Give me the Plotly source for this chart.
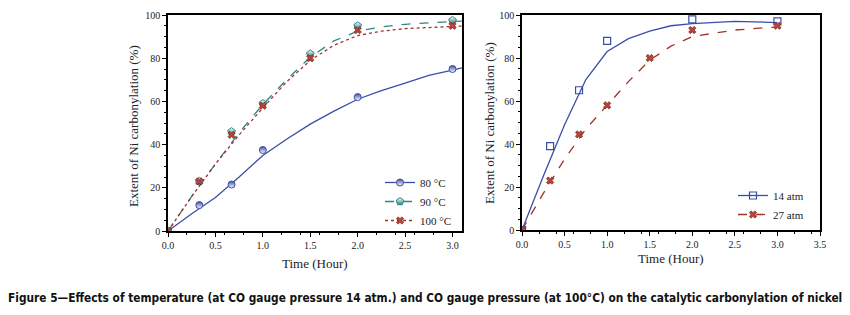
import plotly.graph_objects as go

# ---- measured points ----
t_pts = [0.0, 0.33, 0.67, 1.0, 2.0, 3.0]
t_pts_b = [0.0, 0.33, 0.67, 1.0, 1.5, 2.0, 3.0]
y80 = [0, 12, 21.5, 37.5, 62, 75]
y90 = [0, 23, 46, 59, 82, 95, 97.5]
y100 = [0, 23, 44.5, 58, 80, 93, 95]
y14 = [0, 39, 65, 88, 98, 97]
y27 = [0, 23, 44.5, 58, 80, 93, 95]

# ---- fitted curves ----
t_fit = [0, 0.25, 0.5, 0.75, 1.0, 1.25, 1.5, 1.75, 2.0, 2.25, 2.5, 2.75, 3.0, 3.1]
f80 = [0, 8, 15.5, 25, 35, 42.5, 49.5, 55.5, 61, 65, 68.5, 72, 74.5, 75.5]
f90 = [0, 16, 31, 45.5, 58.5, 70, 80.5, 88, 92.5, 94.5, 95.7, 96.5, 97, 97.2]
f100 = [0, 16, 31, 44.5, 57, 69, 79, 86, 90.5, 92.5, 93.7, 94.3, 94.7, 94.9]
t_fit_r = [0, 0.25, 0.5, 0.67, 0.75, 1.0, 1.25, 1.5, 1.75, 2.0, 2.5, 3.0]
f14 = [0, 25, 49, 63, 70, 83, 89, 92.5, 95, 96, 97, 96.5]
t_fit_r2 = [0, 0.25, 0.5, 0.75, 1.0, 1.25, 1.5, 1.75, 2.0, 2.5, 3.0]
f27 = [0, 17, 33, 47, 58, 69, 79, 85.5, 90, 93, 94.5]

x_ticks_left = [0.0, 0.5, 1.0, 1.5, 2.0, 2.5, 3.0]
x_ticks_right = [0.0, 0.5, 1.0, 1.5, 2.0, 2.5, 3.0, 3.5]
y_ticks = [0, 20, 40, 60, 80, 100]

BLUE = "#3b4ea6"
TEAL = "#2b8686"
RED = "#a3322b"
XRED = "#b8433a"
XLINE = "#6e1a14"
SERIF = "Liberation Serif"

m80 = dict(symbol="circle", size=7, color=BLUE, gradient=dict(type="vertical", color="white"),
           line=dict(color=BLUE, width=1))
m90 = dict(symbol="pentagon", size=8, color="white", gradient=dict(type="vertical", color=TEAL),
           line=dict(color=TEAL, width=1))
mx = dict(symbol="x", size=6.5, color=XRED, line=dict(color=XLINE, width=0.6))
m14 = dict(symbol="square-open", size=7, color=BLUE, line=dict(width=1.2))

fig = go.Figure()

# left panel curves
fig.add_trace(go.Scatter(x=t_fit, y=f80, mode="lines", line=dict(color=BLUE, width=1.3),
                         showlegend=False, xaxis="x", yaxis="y", hoverinfo="skip"))
fig.add_trace(go.Scatter(x=t_fit, y=f90, mode="lines", line=dict(color=TEAL, width=1.3, dash="dash"),
                         showlegend=False, xaxis="x", yaxis="y", hoverinfo="skip"))
fig.add_trace(go.Scatter(x=t_fit, y=f100, mode="lines", line=dict(color=RED, width=1.3, dash="dot"),
                         showlegend=False, xaxis="x", yaxis="y", hoverinfo="skip"))
# left panel points
fig.add_trace(go.Scatter(x=t_pts, y=y80, mode="markers", name="80 \u00b0C", marker=m80,
                         xaxis="x", yaxis="y", showlegend=False))
fig.add_trace(go.Scatter(x=t_pts_b, y=y90, mode="markers", name="90 \u00b0C", marker=m90,
                         xaxis="x", yaxis="y", showlegend=False))
fig.add_trace(go.Scatter(x=t_pts_b, y=y100, mode="markers", name="100 \u00b0C", marker=mx,
                         xaxis="x", yaxis="y", showlegend=False))
# legend entries (left)
fig.add_trace(go.Scatter(x=[None], y=[None], mode="lines+markers", name="80 \u00b0C",
                         line=dict(color=BLUE, width=1.3), marker=m80,
                         xaxis="x", yaxis="y", legend="legend"))
fig.add_trace(go.Scatter(x=[None], y=[None], mode="lines+markers", name="90 \u00b0C",
                         line=dict(color=TEAL, width=1.3, dash="dash"), marker=m90,
                         xaxis="x", yaxis="y", legend="legend"))
fig.add_trace(go.Scatter(x=[None], y=[None], mode="lines+markers", name="100 \u00b0C",
                         line=dict(color=RED, width=1.3, dash="dot"), marker=mx,
                         xaxis="x", yaxis="y", legend="legend"))

# right panel
fig.add_trace(go.Scatter(x=t_fit_r, y=f14, mode="lines", line=dict(color=BLUE, width=1.3),
                         showlegend=False, xaxis="x2", yaxis="y2", hoverinfo="skip"))
fig.add_trace(go.Scatter(x=t_fit_r2, y=f27, mode="lines", line=dict(color=RED, width=1.3, dash="dash"),
                         showlegend=False, xaxis="x2", yaxis="y2", hoverinfo="skip"))
fig.add_trace(go.Scatter(x=t_pts, y=y14, mode="markers", name="14 atm", marker=m14,
                         xaxis="x2", yaxis="y2", showlegend=False))
fig.add_trace(go.Scatter(x=t_pts_b, y=y27, mode="markers", name="27 atm", marker=mx,
                         xaxis="x2", yaxis="y2", showlegend=False))
fig.add_trace(go.Scatter(x=[None], y=[None], mode="lines+markers", name="14 atm",
                         line=dict(color=BLUE, width=1.3), marker=m14,
                         xaxis="x2", yaxis="y2", legend="legend2"))
fig.add_trace(go.Scatter(x=[None], y=[None], mode="lines+markers", name="27 atm",
                         line=dict(color=RED, width=1.3, dash="dash"), marker=mx,
                         xaxis="x2", yaxis="y2", legend="legend2"))

W, H = 850, 315
def px(v): return v / W
def py(v): return 1 - v / H

axis_common = dict(showline=True, linecolor="black", linewidth=1.5, mirror=True,
                   ticks="outside", ticklen=4, tickcolor="black",
                   minor=dict(ticks="outside", ticklen=2, tickcolor="black"),
                   showgrid=False, zeroline=False, automargin=False,
                   tickfont=dict(family=SERIF, size=10, color="#222"))

legend_common = dict(xref="container", yref="container", xanchor="left", yanchor="top",
                     bgcolor="rgba(0,0,0,0)", font=dict(family=SERIF, size=11, color="#222"),
                     itemwidth=30, tracegroupgap=0)

fig.update_layout(
    width=W, height=H, margin=dict(l=0, r=0, t=0, b=0, autoexpand=False),
    paper_bgcolor="white", plot_bgcolor="white",
    xaxis=dict(domain=[px(168), px(462)], range=[0, 3.1], tickvals=x_ticks_left,
               ticktext=[f"{v:.1f}" for v in x_ticks_left], anchor="y", **axis_common),
    yaxis=dict(domain=[py(231), py(15)], range=[0, 100], tickvals=y_ticks, anchor="x", **axis_common),
    xaxis2=dict(domain=[px(522), px(820)], range=[0, 3.5], tickvals=x_ticks_right,
                ticktext=[f"{v:.1f}" for v in x_ticks_right], anchor="y2", **axis_common),
    yaxis2=dict(domain=[py(230), py(15)], range=[0, 100], tickvals=y_ticks, anchor="x2", **axis_common),
    legend=dict(x=px(380), y=py(168), **legend_common),
    legend2=dict(x=px(733), y=py(181), **legend_common),
    font=dict(family=SERIF),
)

ann_common = dict(xref="paper", yref="paper", showarrow=False, xanchor="center", yanchor="middle")
TITLE_FONT = dict(family=SERIF, size=13, color="#222")
ann = []
ann.append(dict(x=px(315), y=py(263), text="Time (Hour)", font=TITLE_FONT, **ann_common))
ann.append(dict(x=px(671), y=py(258), text="Time (Hour)", font=TITLE_FONT, **ann_common))
ann.append(dict(x=px(133), y=py(126), text="Extent of Ni carbonylation (%)", textangle=-90,
                font=TITLE_FONT, **ann_common))
ann.append(dict(x=px(490), y=py(123), text="Extent of Ni carbonylation (%)", textangle=-90,
                font=TITLE_FONT, **ann_common))
ann.append(dict(x=px(425), y=py(298),
                text="<b>Figure 5\u2014Effects of temperature (at CO gauge pressure 14 atm.) and CO gauge pressure (at 100\u00b0C) on the catalytic carbonylation of nickel</b>",
                font=dict(family="DejaVu Sans Condensed, Liberation Sans", size=11.8, color="#111"),
                **ann_common))
fig.update_layout(annotations=ann)

fig.write_html("out.html", config={"displayModeBar": False},
               post_script="document.body.style.margin='0';document.body.style.padding='0';")
